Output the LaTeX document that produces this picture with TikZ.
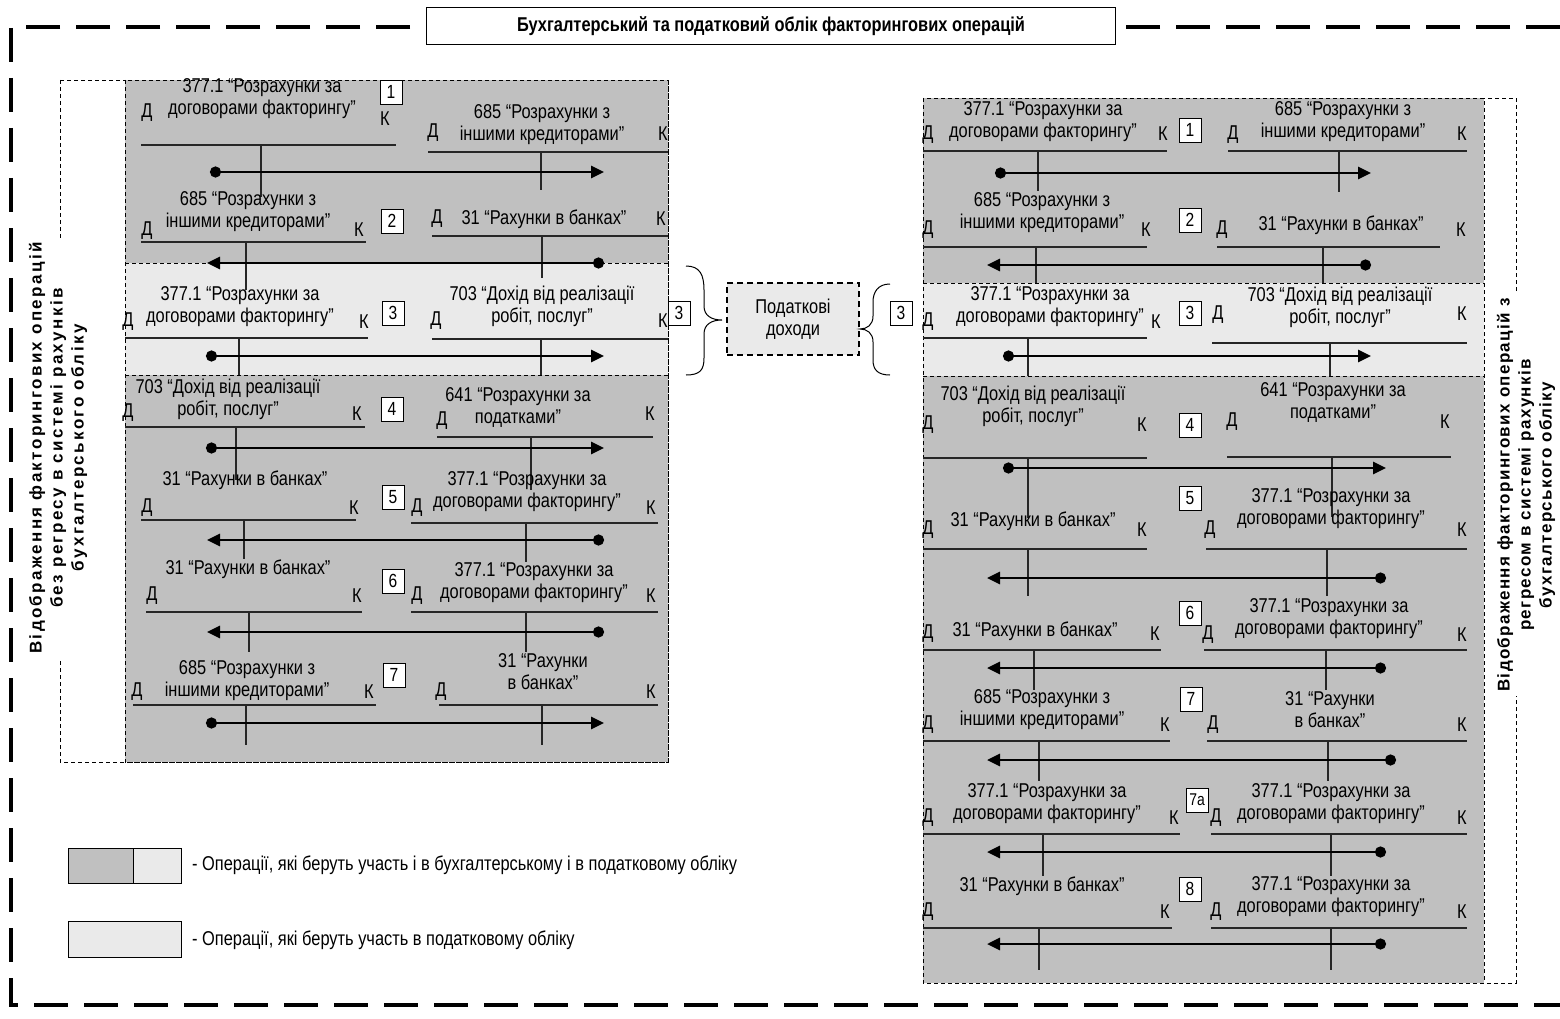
\documentclass[tikz,border=0pt]{standalone}
\usepackage{fontspec}
\setmainfont[FakeStretch=0.82]{Liberation Sans}
\newfontfamily\sidefontL[LetterSpace=14]{Liberation Sans}
\newfontfamily\sidefontR[LetterSpace=8]{Liberation Sans}
\usetikzlibrary{arrows.meta}
\definecolor{dkgray}{HTML}{C0C0C0}
\definecolor{ltgray}{HTML}{EAEAEA}
\tikzset{
  txt/.style={font=\fontsize{20}{22}\selectfont, inner sep=0pt, align=center},
  dklab/.style={font=\fontsize{20}{22}\selectfont, inner sep=0pt},
  numbox/.style={draw, fill=white, line width=0.9pt, font=\fontsize{19}{20}\selectfont, minimum width=22pt, minimum height=24pt, inner sep=0pt},
  tline/.style={line width=1.3pt, draw=black!85},
  flow/.style={line width=2.8pt, {Circle[length=11pt,width=11pt]}-{Triangle[length=13pt,width=12pt]}},
  thindash/.style={line width=0.9pt, dash pattern=on 4pt off 3pt},
  bigdash/.style={line width=4pt, dash pattern=on 34pt off 16pt},
  legtxt/.style={font=\fontsize{20}{22}\selectfont, inner sep=0pt, anchor=west},
}
\begin{document}
\begin{tikzpicture}[x=1pt,y=-1pt]
\useasboundingbox (0,0) rectangle (1560,1019);
% big frame
\draw[bigdash] (1560,27) -- (11,27) -- (11,1005) -- (1560,1005);
\node[draw, line width=1.6pt, fill=white, minimum width=689pt, minimum height=37pt, inner sep=0pt,
      font=\fontsize{20}{22}\selectfont\bfseries] (title) at (771,26)
      {Бухгалтерський та податковий облік факторингових операцій};

% left panel
\draw[thindash] (60,80) rectangle (668,762);
\fill[dkgray] (125,80) rectangle (668,762);
\fill[ltgray] (125,263) rectangle (668,375);
\draw[thindash] (125,80) rectangle (668,762);
\draw[thindash] (125,263) -- (668,263);
\draw[thindash] (125,375) -- (668,375);
\node[fill=white, rotate=90, align=center, inner sep=4pt,
      font=\sidefontL\bfseries\fontsize{17}{21}\selectfont] (lablL) at (58,448)
  {Відображення факторингових операцій\\без регресу в системі рахунків\\бухгалтерського обліку};

% right panel
\draw[thindash] (923,98) rectangle (1516,983);
\fill[dkgray] (923,98) rectangle (1484,983);
\fill[ltgray] (923,283) rectangle (1484,376);
\draw[thindash] (923,98) rectangle (1484,983);
\draw[thindash] (923,283) -- (1484,283);
\draw[thindash] (923,376) -- (1484,376);
\node[fill=white, rotate=90, align=center, inner sep=4pt,
      font=\sidefontR\bfseries\fontsize{17}{21}\selectfont] (lablR) at (1526,495)
  {Відображення факторингових операцій з\\регресом в системі рахунків\\бухгалтерського обліку};

% T-accounts
\foreach \an/\at/\ax/\ay/\adx/\ady/\akx/\aky/\aly/\axa/\axb/\avx/\avy in {
 L1a/{377.1 “Розрахунки за\\договорами факторингу”}/262/99/147/113/385/119/145/141/396/261/197,
 L1b/{685 “Розрахунки з\\іншими кредиторами”}/542/125/433/133/663/134/152/428/668/541/190,
 L2a/{685 “Розрахунки з\\іншими кредиторами”}/248/212/147/231/359/230/242/141/366/246/290,
 L2b/{31 “Рахунки в банках”}/544/219/437/219/661/219/236/432/668/542/278,
 L3a/{377.1 “Розрахунки за\\договорами факторингу”}/240/307/128/322/364/322/338/125/368/239/375,
 L3b/{703 “Дохід від реалізації\\робіт, послуг”}/542/306/436/321/663/321/339/432/668/541/375,
 L4a/{703 “Дохід від реалізації\\робіт, послуг”}/228/399/128/413/357/414/427/125/365/236/480,
 L4b/{641 “Розрахунки за\\податками”}/518/408/442/421/650/414/437/437/653/531/490,
 L5a/{31 “Рахунки в банках”}/245/480/147/508/354/508/520/141/356/244/559,
 L5b/{377.1 “Розрахунки за\\договорами факторингу”}/527/492/417/508/651/508/523/411/658/526/562,
 L6a/{31 “Рахунки в банках”}/248/569/152/596/357/596/612/146/362/249/652,
 L6b/{377.1 “Розрахунки за\\договорами факторингу”}/534/583/417/596/651/596/612/411/658/526/652,
 L7a/{685 “Розрахунки з\\іншими кредиторами”}/247/681/137/692/369/692/705/133/376/246/745,
 L7b/{31 “Рахунки\\в банках”}/543/672/441/692/651/692/705/439/658/542/745,
 R1a/{377.1 “Розрахунки за\\договорами факторингу”}/1043/122/928/135/1163/134/151/923/1167/1038/191,
 R1b/{685 “Розрахунки з\\іншими кредиторами”}/1343/122/1233/135/1462/134/151/1228/1467/1339/192,
 R2a/{685 “Розрахунки з\\іншими кредиторами”}/1042/213/928/230/1146/230/247/923/1147/1036/283,
 R2b/{31 “Рахунки в банках”}/1341/225/1222/230/1461/230/247/1217/1440/1323/283,
 R3a/{377.1 “Розрахунки за\\договорами факторингу”}/1050/307/928/322/1156/322/338/923/1147/1028/376,
 R3b/{703 “Дохід від реалізації\\робіт, послуг”}/1340/307/1218/315/1462/314/343/1212/1467/1330/376,
 R4a/{703 “Дохід від реалізації\\робіт, послуг”}/1033/406/928/425/1142/425/458/923/1147/1028/518,
 R4b/{641 “Розрахунки за\\податками”}/1333/403/1232/422/1445/422/457/1227/1451/1332/517,
 R5a/{31 “Рахунки в банках”}/1033/521/928/530/1142/530/549/923/1147/1028/596,
 R5b/{377.1 “Розрахунки за\\договорами факторингу”}/1331/509/1210/530/1462/530/549/1206/1467/1327/596,
 R6a/{31 “Рахунки в банках”}/1035/631/928/634/1155/634/650/923/1161/1034/690,
 R6b/{377.1 “Розрахунки за\\договорами факторингу”}/1329/619/1208/635/1462/635/650/1204/1467/1326/690,
 R7a/{685 “Розрахунки з\\іншими кредиторами”}/1042/710/928/725/1165/725/741/923/1170/1039/781,
 R7b/{31 “Рахунки\\в банках”}/1330/710/1213/725/1462/725/741/1207/1467/1328/781,
 R7c/{377.1 “Розрахунки за\\договорами факторингу”}/1047/804/928/818/1174/818/834/923/1180/1043/876,
 R7d/{377.1 “Розрахунки за\\договорами факторингу”}/1331/804/1216/818/1462/818/834/1211/1467/1331/876,
 R8a/{31 “Рахунки в банках”}/1042/886/928/912/1165/912/928/923/1172/1039/970,
 R8b/{377.1 “Розрахунки за\\договорами факторингу”}/1331/897/1216/912/1462/912/928/1211/1467/1331/970}
{
  \node[txt] (\an-t) at (\ax,\ay) {\at};
  \node[dklab] (\an-d) at (\adx,\ady) {Д};
  \node[dklab] (\an-k) at (\akx,\aky) {К};
  \coordinate (\an-a) at (\axa,\aly);
  \coordinate (\an-b) at (\axb,\aly);
  \coordinate (\an-v) at (\avx,\aly);
  \coordinate (\an-w) at (\avx,\avy);
  \draw[tline] (\an-a) -- (\an-b);
  \draw[tline] (\an-v) -- (\an-w);
}

% flows (from dot to head)
\foreach \fn/\sx/\sy/\ex/\ey in {
 FL1/210/172/604/172, FL2/604/263/207/263, FL3/206/356/604/356, FL4/206/448/604/448,
 FL5/604/540/207/540, FL6/604/632/207/632, FL7/206/723/604/723,
 FR1/995/173/1371/173, FR2/1371/265/987/265, FR3/1003/356/1371/356, FR4/1003/468/1386/468,
 FR5/1386/578/987/578, FR6/1386/668/987/668, FR7/1396/760/987/760, FR7a/1386/852/987/852,
 FR8/1386/944/987/944}
{
  \coordinate (\fn-s) at (\sx,\sy);
  \coordinate (\fn-e) at (\ex,\ey);
  \draw[flow] (\fn-s) -- (\fn-e);
}

% number boxes
\foreach \bn/\bx/\by/\bt in {
 nL1/391/92/1, nL2/392/221/2, nL3/393/313/3, nL4/392/409/4, nL5/393/497/5, nL6/393/581/6,
 nL7/394/675/7, nL3x/679/313/3, nR3x/901/313/3,
 nR1/1190/130/1, nR2/1190/220/2, nR3/1190/313/3, nR4/1190/425/4, nR5/1190/498/5,
 nR6/1190/613/6, nR7/1191/699/7, nR8/1190/889/8}
{
  \node[numbox] (\bn) at (\bx,\by) {\bt};
}
\node[numbox, font=\fontsize{17}{18}\selectfont] (nR7a) at (1197,800) {7а};

% tax income box and braces
\node[draw, dash pattern=on 6pt off 4pt, line width=1.1pt, fill=ltgray, minimum width=132pt,
      minimum height=72pt, align=center, txt] (tax) at (793,319) {Податкові\\доходи};
\draw[line width=1pt] (686,266) .. controls (700,266) and (704,275) .. (704,290) -- (704,306)
   .. controls (704,316) and (712,320) .. (722,320)
   .. controls (712,320) and (704,324) .. (704,334) -- (704,358)
   .. controls (704,370) and (700,375) .. (686,375);
\draw[line width=1pt] (890,284) .. controls (878,284) and (873,292) .. (873,302) -- (873,316)
   .. controls (873,325) and (867,329) .. (860,329)
   .. controls (867,329) and (873,333) .. (873,342) -- (873,360)
   .. controls (873,370) and (878,375) .. (890,375);

% legend
\fill[dkgray] (68,848) rectangle (133,883);
\fill[ltgray] (133,848) rectangle (181,883);
\draw[line width=1pt] (68,848) rectangle (181,883);
\draw[line width=1pt] (133,848) -- (133,883);
\node[draw, line width=1pt, fill=ltgray, minimum width=113pt, minimum height=36pt, inner sep=0pt] (leg2) at (124.5,939) {};
\node[legtxt] (legt1) at (192,865) {- Операції, які беруть участь і в бухгалтерському і в податковому обліку};
\node[legtxt] (legt2) at (192,940) {- Операції, які беруть участь в податковому обліку};
\end{tikzpicture}
\end{document}
